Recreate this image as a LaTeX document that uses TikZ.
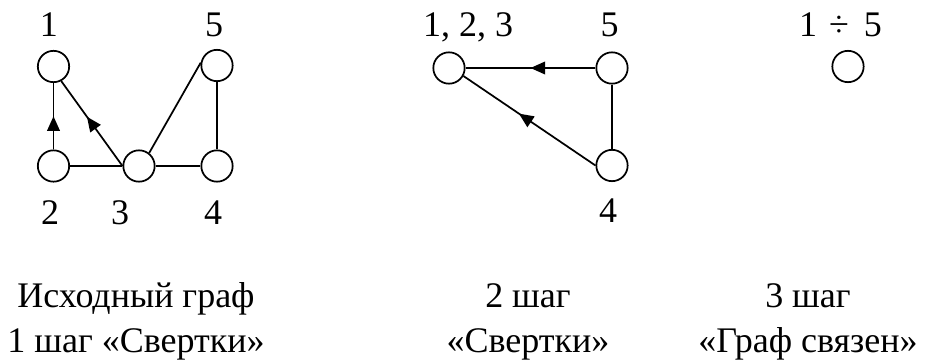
\documentclass[tikz,border=0pt]{standalone}
\usepackage{fontspec}
\setmainfont{Liberation Serif}
\usetikzlibrary{arrows.meta,decorations.markings}

\begin{document}
\begin{tikzpicture}[x=0.75pt, y=-0.75pt,
    vertex/.style={draw, circle, line width=1.3pt, minimum size=23.5pt, inner sep=0pt},
    edge/.style={line width=1.3pt},
    midarrow/.style={postaction={decorate}, decoration={markings, mark=at position #1 with {\arrow{Triangle[length=11pt,width=9.5pt]}}}},
    lbl/.style={anchor=base, inner sep=0pt, font=\fontsize{27}{32}\selectfont},
    caption/.style={anchor=base, align=center, inner sep=0pt, font=\fontsize{27}{33.75}\selectfont}]
    \useasboundingbox (0,0) rectangle (933,363);

    % исходный граф
    \node[vertex] (a1) at (53.5,66.5) {};
    \node[vertex] (a2) at (53.5,166) {};
    \node[vertex] (a3) at (139,166) {};
    \node[vertex] (a4) at (217,166) {};
    \node[vertex] (a5) at (217,65.5) {};
    \node[lbl] (la1) at (49,37) {1};
    \node[lbl] (la5) at (214,37) {5};
    \node[lbl] (la2) at (50,225) {2};
    \node[lbl] (la3) at (120,225) {3};
    \node[lbl] (la4) at (213,225) {4};

    \draw[edge, midarrow=0.5] (a2) -- (a1);
    \draw[edge, midarrow=0.58] (a3.west) -- (a1.-62);
    \draw[edge] (a2) -- (a3);
    \draw[edge] (a3) -- (a4);
    \draw[edge] (a3.52) -- (a5.170);
    \draw[edge] (a5) -- (a4);

    % 2 шаг
    \node[vertex] (b1) at (449,68) {};
    \node[vertex] (b5) at (612,68) {};
    \node[vertex] (b4) at (612,165.5) {};
    \node[lbl] (lb1) at (468,37) {1, 2, 3};
    \node[lbl] (lb5) at (609.5,37) {5};
    \node[lbl] (lb4) at (608,223) {4};

    \draw[edge, midarrow=0.5] (b5) -- (b1);
    \draw[edge, midarrow=0.58] (b4.west) -- (b1.-29);
    \draw[edge] (b5) -- (b4);

    % 3 шаг
    \node[vertex] (c1) at (848,66.5) {};
    \node[lbl] (lc1) at (840.5,37) {1\,\,÷\, 5};

    % подписи
    \node[caption] (cap1) at (136,353) {Исходный граф\\1 шаг «Свертки»};
    \node[caption] (cap2) at (528,353) {2 шаг\\«Свертки»};
    \node[caption] (cap3) at (808,353) {3 шаг\\«Граф связен»};
\end{tikzpicture}
\end{document}
